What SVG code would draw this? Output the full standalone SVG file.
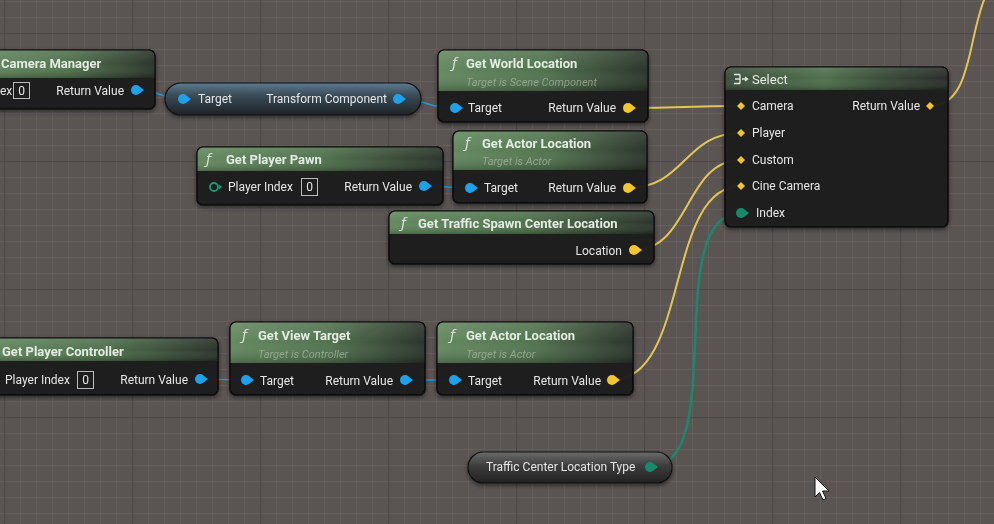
<svg xmlns="http://www.w3.org/2000/svg" width="994" height="524" viewBox="0 0 994 524">
<defs>
<pattern id="minor" x="4" y="1" width="16" height="16" patternUnits="userSpaceOnUse">
<path d="M0.5,0 V16 M0,0.5 H16" stroke="#645e5d" stroke-width="1" fill="none"/>
</pattern>
<pattern id="major" x="4" y="33" width="128" height="128" patternUnits="userSpaceOnUse">
<path d="M0.5,0 V128 M0,0.5 H128" stroke="#4e4848" stroke-width="1.2" fill="none"/>
</pattern>
<linearGradient id="hdr" x1="0" y1="0" x2="1" y2="0">
<stop offset="0" stop-color="#62875e"/>
<stop offset="0.5" stop-color="#4f714c"/>
<stop offset="1" stop-color="#273127"/>
</linearGradient>
<linearGradient id="hdrSel" x1="0" y1="0" x2="1" y2="0">
<stop offset="0" stop-color="#394a39"/>
<stop offset="0.45" stop-color="#4c6e4a"/>
<stop offset="0.7" stop-color="#374a36"/>
<stop offset="1" stop-color="#252a25"/>
</linearGradient>
<linearGradient id="gloss" x1="0" y1="0" x2="0" y2="1">
<stop offset="0" stop-color="#ffffff" stop-opacity="0.12"/>
<stop offset="0.5" stop-color="#ffffff" stop-opacity="0.02"/>
<stop offset="1" stop-color="#000000" stop-opacity="0.22"/>
</linearGradient>
<linearGradient id="pillBlue" x1="0" y1="0" x2="0" y2="1">
<stop offset="0" stop-color="#5d7c92"/>
<stop offset="0.4" stop-color="#3a4a55"/>
<stop offset="1" stop-color="#1e2226"/>
</linearGradient>
<linearGradient id="pillGray" x1="0" y1="0" x2="0" y2="1">
<stop offset="0" stop-color="#6c6c6c"/>
<stop offset="0.45" stop-color="#3c3c3c"/>
<stop offset="1" stop-color="#222"/>
</linearGradient>
<filter id="sh" x="-10%" y="-20%" width="120%" height="150%">
<feDropShadow dx="0" dy="2" stdDeviation="2" flood-color="#000" flood-opacity="0.5"/>
</filter>
<style>
.body{fill:#1c1c1c;fill-opacity:0.95;stroke:#0b0b0b;stroke-width:1.2}
.t{font-family:Roboto,"Liberation Sans",sans-serif;font-size:12px;fill:#e6e6e6}
.ttl{font-family:Roboto,"Liberation Sans",sans-serif;font-size:13px;font-weight:bold;fill:#e4ebe2}
.sub{font-family:Roboto,"Liberation Sans",sans-serif;font-size:11px;font-style:italic;fill:#a9bca4;fill-opacity:0.7}
.fn{font-family:"DejaVu Sans",sans-serif;font-size:14px;font-style:italic;fill:#d8e2d4}
.r{text-anchor:end}
.box{fill:none;stroke:#bbbbbb;stroke-width:1}
.blue{fill:#1ea2ea}
.yel{fill:#f2c62c}
.teal{fill:#178b6c}
.w{fill:none;stroke-linecap:round}
.wb{stroke:#1c9be0;stroke-width:1.6}
.wy{stroke:#e2c655;stroke-width:2}
.wt{stroke:#1d876c;stroke-width:2.6}
</style>
</defs>
<rect width="994" height="524" fill="#5a5453"/>
<rect width="994" height="524" fill="url(#minor)"/>
<rect width="994" height="524" fill="url(#major)"/>

<g id="connectors">
<path class="w wb" d="M136,90 C160,90 160,99 183,99"/>
<path class="w wb" d="M398,99 C428,99 425,108 455,108"/>
<path class="w wb" d="M424,186 C447,186 447,188 470,188"/>
<path class="w wb" d="M200,379 C223,379 223,380 246,380"/>
<path class="w wb" d="M405,380 C430,380 430,380 454,380"/>
<path class="w wy" d="M628,108 C685,108 684,106 741,106"/>
<path class="w wy" d="M628,188 C685,188 684,133 741,133"/>
<path class="w wy" d="M634,250 C690,250 685,160 741,160"/>
<path class="w wy" d="M612,380 C690,380 665,186 741,186"/>
<path class="w wt" d="M650,467 C730,467 660,213 741,213"/>
<path class="w wy" d="M930,106 C985,106 960,-10 1010,-30"/>
</g>

<g id="camera-manager" filter="url(#sh)">
<rect class="body" x="-20" y="50" width="175" height="59" rx="6"/>
<path d="M-20,78 V56 Q-20,50 -14,50 H149 Q155,50 155,56 V78 Z" fill="url(#hdr)"/>
<path d="M-20,78 V56 Q-20,50 -14,50 H149 Q155,50 155,56 V78 Z" fill="url(#gloss)"/>
<rect x="-20" y="50" width="175" height="59" rx="6" fill="none" stroke="#0b0b0b" stroke-width="1.2"/>
<text class="ttl" x="1" y="68">Camera Manager</text>
<text class="t" x="0" y="95">ex</text>
<rect class="box" x="13.5" y="82.5" width="16" height="16"/>
<text class="t" x="21.5" y="95" text-anchor="middle">0</text>
<text class="t r" x="124" y="95">Return Value</text>
<circle class="blue" cx="136" cy="90" r="5"/><path class="blue" d="M140,87 L144,90 L140,93 Z"/>
</g>

<g id="transform-component" filter="url(#sh)">
<rect x="165" y="83" width="256" height="32" rx="16" fill="url(#pillBlue)" stroke="#111" stroke-width="1.2"/>
<circle class="blue" cx="183" cy="99" r="5"/><path class="blue" d="M187,96 L191,99 L187,102 Z"/>
<text class="t" x="198" y="103">Target</text>
<text class="t r" x="387" y="103">Transform Component</text>
<circle class="blue" cx="398" cy="99" r="5"/><path class="blue" d="M402,96 L406,99 L402,102 Z"/>
</g>

<g id="get-world-location" filter="url(#sh)">
<rect class="body" x="438" y="50" width="210" height="72" rx="6"/>
<path d="M438,91 V56 Q438,50 444,50 H642 Q648,50 648,56 V91 Z" fill="url(#hdr)"/>
<path d="M438,91 V56 Q438,50 444,50 H642 Q648,50 648,56 V91 Z" fill="url(#gloss)"/>
<rect x="438" y="50" width="210" height="72" rx="6" fill="none" stroke="#0b0b0b" stroke-width="1.2"/>
<text class="fn" x="452" y="68">ƒ</text>
<text class="ttl" x="466" y="68">Get World Location</text>
<text class="sub" x="466" y="86">Target is Scene Component</text>
<circle class="blue" cx="455" cy="108" r="5"/><path class="blue" d="M459,105 L463,108 L459,111 Z"/>
<text class="t" x="468" y="112">Target</text>
<text class="t r" x="616" y="112">Return Value</text>
<circle class="yel" cx="628" cy="108" r="5"/><path class="yel" d="M632,105 L636,108 L632,111 Z"/>
</g>

<g id="select" filter="url(#sh)">
<rect class="body" x="725" y="67" width="223" height="160" rx="6"/>
<path d="M725,90 V73 Q725,67 731,67 H942 Q948,67 948,73 V90 Z" fill="url(#hdrSel)"/>
<path d="M725,90 V73 Q725,67 731,67 H942 Q948,67 948,73 V90 Z" fill="url(#gloss)"/>
<rect x="725" y="67" width="223" height="160" rx="6" fill="none" stroke="#0b0b0b" stroke-width="1.2"/>
<path d="M734,74.5 H740 M735,79 H740 M734,83.5 H740 M740,74.5 V83.5 M742,79 H747 M745,77 L747.5,79 L745,81" fill="none" stroke="#e0e8dc" stroke-width="1.4"/>
<text class="ttl" x="752" y="84" style="font-weight:normal">Select</text>
<path class="yel" d="M741,102 L745,106 L741,110 L737,106 Z"/>
<text class="t" x="752" y="110">Camera</text>
<path class="yel" d="M741,129 L745,133 L741,137 L737,133 Z"/>
<text class="t" x="752" y="137">Player</text>
<path class="yel" d="M741,156 L745,160 L741,164 L737,160 Z"/>
<text class="t" x="752" y="164">Custom</text>
<path class="yel" d="M741,182 L745,186 L741,190 L737,186 Z"/>
<text class="t" x="752" y="190">Cine Camera</text>
<circle class="teal" cx="741" cy="213" r="5"/><path class="teal" d="M745,210 L749,213 L745,216 Z"/>
<text class="t" x="756" y="217">Index</text>
<text class="t r" x="920" y="110">Return Value</text>
<path class="yel" d="M930,102 L934,106 L930,110 L926,106 Z"/>
</g>

<g id="get-player-pawn" filter="url(#sh)">
<rect class="body" x="197" y="147" width="246" height="58" rx="6"/>
<path d="M197,171 V153 Q197,147 203,147 H437 Q443,147 443,153 V171 Z" fill="url(#hdr)"/>
<path d="M197,171 V153 Q197,147 203,147 H437 Q443,147 443,153 V171 Z" fill="url(#gloss)"/>
<rect x="197" y="147" width="246" height="58" rx="6" fill="none" stroke="#0b0b0b" stroke-width="1.2"/>
<text class="fn" x="206" y="164">ƒ</text>
<text class="ttl" x="226" y="164">Get Player Pawn</text>
<circle cx="214" cy="187" r="4" fill="none" stroke="#1a9a78" stroke-width="1.8"/><path d="M219,184.5 L222,187 L219,189.5 Z" fill="#1a9a78"/>
<text class="t" x="228" y="191">Player Index</text>
<rect class="box" x="301.5" y="178.5" width="16" height="17"/>
<text class="t" x="309.5" y="191" text-anchor="middle">0</text>
<text class="t r" x="412" y="191">Return Value</text>
<circle class="blue" cx="424" cy="186" r="5"/><path class="blue" d="M428,183 L432,186 L428,189 Z"/>
</g>

<g id="get-actor-location-1" filter="url(#sh)">
<rect class="body" x="453" y="131" width="194" height="72" rx="6"/>
<path d="M453,170 V137 Q453,131 459,131 H641 Q647,131 647,137 V170 Z" fill="url(#hdr)"/>
<path d="M453,170 V137 Q453,131 459,131 H641 Q647,131 647,137 V170 Z" fill="url(#gloss)"/>
<rect x="453" y="131" width="194" height="72" rx="6" fill="none" stroke="#0b0b0b" stroke-width="1.2"/>
<text class="fn" x="465" y="148">ƒ</text>
<text class="ttl" x="482" y="148">Get Actor Location</text>
<text class="sub" x="482" y="165">Target is Actor</text>
<circle class="blue" cx="470" cy="188" r="5"/><path class="blue" d="M474,185 L478,188 L474,191 Z"/>
<text class="t" x="484" y="192">Target</text>
<text class="t r" x="616" y="192">Return Value</text>
<circle class="yel" cx="628" cy="188" r="5"/><path class="yel" d="M632,185 L636,188 L632,191 Z"/>
</g>

<g id="get-traffic-spawn-center-location" filter="url(#sh)">
<rect class="body" x="389" y="211" width="265" height="53" rx="6"/>
<path d="M389,234 V217 Q389,211 395,211 H648 Q654,211 654,217 V234 Z" fill="url(#hdr)"/>
<path d="M389,234 V217 Q389,211 395,211 H648 Q654,211 654,217 V234 Z" fill="url(#gloss)"/>
<rect x="389" y="211" width="265" height="53" rx="6" fill="none" stroke="#0b0b0b" stroke-width="1.2"/>
<text class="fn" x="401" y="228">ƒ</text>
<text class="ttl" x="418" y="228">Get Traffic Spawn Center Location</text>
<text class="t r" x="622" y="255">Location</text>
<circle class="yel" cx="634" cy="250" r="5"/><path class="yel" d="M638,247 L642,250 L638,253 Z"/>
</g>

<g id="get-player-controller" filter="url(#sh)">
<rect class="body" x="-20" y="338" width="238" height="57" rx="6"/>
<path d="M-20,361 V344 Q-20,338 -14,338 H212 Q218,338 218,344 V361 Z" fill="url(#hdr)"/>
<path d="M-20,361 V344 Q-20,338 -14,338 H212 Q218,338 218,344 V361 Z" fill="url(#gloss)"/>
<rect x="-20" y="338" width="238" height="57" rx="6" fill="none" stroke="#0b0b0b" stroke-width="1.2"/>
<text class="ttl" x="2" y="356">Get Player Controller</text>
<text class="t" x="5" y="384">Player Index</text>
<rect class="box" x="77.5" y="371.5" width="16" height="17"/>
<text class="t" x="85.5" y="384" text-anchor="middle">0</text>
<text class="t r" x="188" y="384">Return Value</text>
<circle class="blue" cx="200" cy="379" r="5"/><path class="blue" d="M204,376 L208,379 L204,382 Z"/>
</g>

<g id="get-view-target" filter="url(#sh)">
<rect class="body" x="230" y="322" width="195" height="73" rx="6"/>
<path d="M230,363 V328 Q230,322 236,322 H419 Q425,322 425,328 V363 Z" fill="url(#hdr)"/>
<path d="M230,363 V328 Q230,322 236,322 H419 Q425,322 425,328 V363 Z" fill="url(#gloss)"/>
<rect x="230" y="322" width="195" height="73" rx="6" fill="none" stroke="#0b0b0b" stroke-width="1.2"/>
<text class="fn" x="242" y="340">ƒ</text>
<text class="ttl" x="258" y="340">Get View Target</text>
<text class="sub" x="258" y="358">Target is Controller</text>
<circle class="blue" cx="246" cy="380" r="5"/><path class="blue" d="M250,377 L254,380 L250,383 Z"/>
<text class="t" x="260" y="385">Target</text>
<text class="t r" x="393" y="385">Return Value</text>
<circle class="blue" cx="405" cy="380" r="5"/><path class="blue" d="M409,377 L413,380 L409,383 Z"/>
</g>

<g id="get-actor-location-2" filter="url(#sh)">
<rect class="body" x="437" y="322" width="196" height="73" rx="6"/>
<path d="M437,363 V328 Q437,322 443,322 H627 Q633,322 633,328 V363 Z" fill="url(#hdr)"/>
<path d="M437,363 V328 Q437,322 443,322 H627 Q633,322 633,328 V363 Z" fill="url(#gloss)"/>
<rect x="437" y="322" width="196" height="73" rx="6" fill="none" stroke="#0b0b0b" stroke-width="1.2"/>
<text class="fn" x="450" y="340">ƒ</text>
<text class="ttl" x="466" y="340">Get Actor Location</text>
<text class="sub" x="466" y="358">Target is Actor</text>
<circle class="blue" cx="454" cy="380" r="5"/><path class="blue" d="M458,377 L462,380 L458,383 Z"/>
<text class="t" x="468" y="385">Target</text>
<text class="t r" x="601" y="385">Return Value</text>
<circle class="yel" cx="612" cy="380" r="5"/><path class="yel" d="M616,377 L620,380 L616,383 Z"/>
</g>

<g id="traffic-center-location-type" filter="url(#sh)">
<rect x="468" y="452" width="204" height="31" rx="15.5" fill="url(#pillGray)" stroke="#111" stroke-width="1.2"/>
<text class="t" x="486" y="471">Traffic Center Location Type</text>
<circle class="teal" cx="650" cy="467" r="5"/><path class="teal" d="M654,464 L658,467 L654,470 Z"/>
</g>

<path d="M815,477 L815,497 L819.5,492.5 L823,500 L826,498.5 L822.5,491 L829,491 Z" fill="#ffffff" stroke="#111" stroke-width="1"/>
</svg>
